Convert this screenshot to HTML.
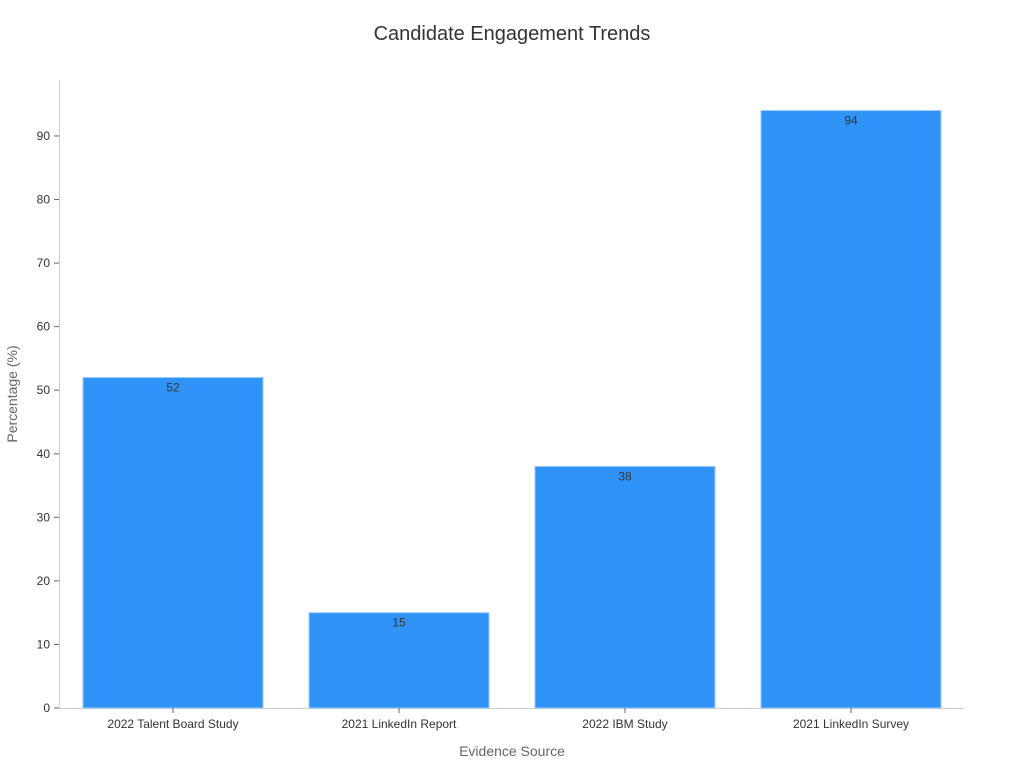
<!DOCTYPE html>
<html><head><meta charset="utf-8"><style>
body{margin:0;background:#fff;font-family:"Liberation Sans","DejaVu Sans",sans-serif}
</style></head><body>
<svg id="chart" width="1024" height="768" xmlns="http://www.w3.org/2000/svg">
<text x="512" y="40" text-anchor="middle" font-size="20" fill="#333">Candidate Engagement Trends</text>
<g id="plot"></g>
<text x="512" y="756" text-anchor="middle" font-size="14" fill="#666">Evidence Source</text>
<text transform="translate(17,394) rotate(-90)" text-anchor="middle" font-size="14" fill="#666">Percentage (%)</text>
</svg>
<script>
const categories=["2022 Talent Board Study","2021 LinkedIn Report","2022 IBM Study","2021 LinkedIn Survey"];
const values=[52,15,38,94];
const yTicks=[0,10,20,30,40,50,60,70,80,90];
const NS="http://www.w3.org/2000/svg";
const g=document.getElementById('plot');
const x0=60,x1=964,yBase=708,pxPer=6.356;
const y=v=>yBase-v*pxPer;
const band=(x1-x0)/categories.length;
function mk(t,a,txt){const e=document.createElementNS(NS,t);for(const k in a)e.setAttribute(k,a[k]);if(txt!==undefined)e.textContent=txt;g.appendChild(e);return e;}
let e;
e=mk('line',{x1:59.5,y1:80,x2:59.5,y2:yBase,stroke:'#ccc'});


e=mk('line',{x1:59,y1:yBase+0.5,x2:x1,y2:yBase+0.5,stroke:'#ccc'});


yTicks.forEach(t=>{
 e=mk('line',{x1:54,x2:59,y1:y(t),y2:y(t),stroke:'#666'});
 
 
 e=mk('text',{x:50,y:y(t)+4,'text-anchor':'end','font-size':12,fill:'#333'},t);
 
 
});
categories.forEach((c,i)=>{
 const cx=x0+band*(i+0.5),bw=180,v=values[i];
 e=mk('rect',{x:cx-bw/2,y:y(v),width:bw,height:yBase-y(v),fill:'#2f93f8',stroke:'#9ccaf7','stroke-width':1});
 
 
 e=mk('text',{x:cx,y:y(v)+14,'text-anchor':'middle','font-size':12,fill:'#333'},v);
 
 
 e=mk('line',{x1:cx,x2:cx,y1:yBase,y2:yBase+5,stroke:'#666'});
 
 
 e=mk('text',{x:cx,y:728,'text-anchor':'middle','font-size':12,fill:'#333'},c);
 
 
});
</script>
</body></html>
